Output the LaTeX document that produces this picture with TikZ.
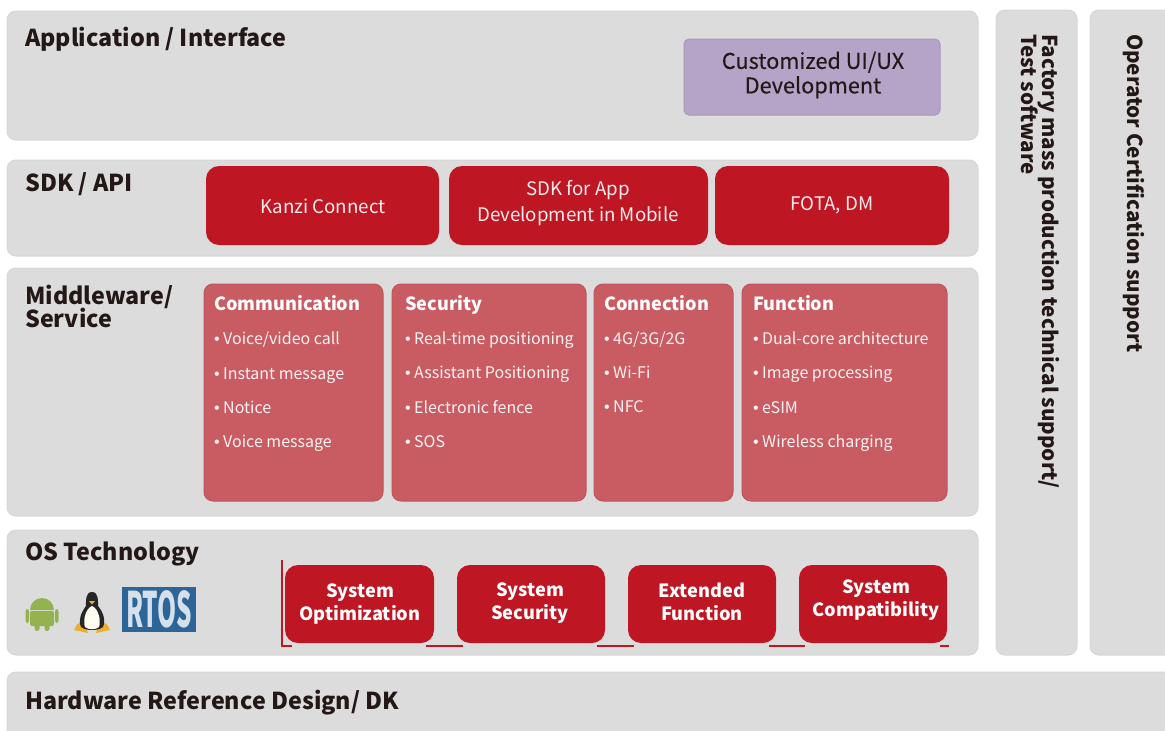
\documentclass[tikz,border=0pt]{standalone}
\usepackage{fontspec}
\setmainfont{Noto Sans CJK SC}
\newfontfamily\dotfont{Liberation Sans}
\newcommand{\dotmark}{\makebox[9pt][l]{{\dotfont •}}}
\definecolor{panelgray}{HTML}{DCDCDD}
\definecolor{paneledge}{HTML}{D6D6D7}
\definecolor{deepred}{HTML}{BE1622}
\definecolor{softred}{HTML}{C95C62}
\definecolor{softedge}{HTML}{BC565D}
\definecolor{lilac}{HTML}{B6A4C8}
\definecolor{lilacedge}{HTML}{A896BC}
\definecolor{inkdark}{HTML}{231815}
\definecolor{droid}{HTML}{93B34E}
\definecolor{rtosblue}{HTML}{2C6698}
\definecolor{tuxfoot}{HTML}{EFAE2F}
\tikzset{
 x=1pt,y=-1pt,
 panel/.style={fill=panelgray,draw=paneledge,line width=1pt,rounded corners=9pt},
 redbox/.style={fill=deepred,rounded corners=13pt},
 softbox/.style={fill=softred,draw=softedge,line width=1pt,rounded corners=9pt},
 lilacbox/.style={fill=lilac,draw=lilacedge,line width=1pt,rounded corners=5pt},
 heading/.style={anchor=base west,inner sep=0pt,text=inkdark,font=\fontsize{23.3}{25}\selectfont\bfseries},
 sidetext/.style={anchor=north west,inner sep=0pt,rotate=-90,text=inkdark,align=left,font=\fontsize{20.6}{22}\selectfont\bfseries},
 boxhead/.style={anchor=base west,inner sep=0pt,text=white,font=\fontsize{18.1}{20}\selectfont\bfseries},
 item/.style={anchor=base west,inner sep=0pt,text=white!92!softred,font=\fontsize{16}{17}\selectfont},
 sdklabel/.style={anchor=center,inner sep=0pt,align=center,text=white!92!deepred,font=\fontsize{18.7}{26.5}\selectfont},
 oslabel/.style={anchor=center,inner sep=0pt,align=center,text=white,font=\fontsize{18.2}{23}\selectfont\bfseries},
 trim/.style={draw=deepred,line width=1.5pt},
}
\begin{document}
\begin{tikzpicture}
\useasboundingbox (0,0) rectangle (1165,731);
% panels
\draw[panel] (7,11) rectangle (978,140);
\draw[panel] (7,160) rectangle (978,256);
\draw[panel] (7,268) rectangle (978,516);
\draw[panel] (7,530) rectangle (978,655);
\draw[panel] (7,672) rectangle (1185,751);
\draw[panel] (996,10) rectangle (1077,655);
\draw[panel] (1090,10) rectangle (1185,655);
% headings
\node[heading] (happ) at (25,46) {Application / Interface};
\node[heading] (hsdk) at (25,191) {SDK / API};
\node[heading] (hmid) at (25,304) {Middleware/};
\node[heading] (hmid2) at (25,327) {Service};
\node[heading] (hos) at (25,560) {OS Technology};
\node[heading] (hhw) at (25,709) {Hardware Reference Design/ DK};
% side text
\node[sidetext] (fact) at (1060,34) {Factory mass production technical support/\\[-1pt]Test software};
\node[sidetext] (oper) at (1145,34) {Operator Certification support};
% application
\draw[lilacbox] (684,39) rectangle (940,115);
\node[anchor=center,inner sep=0pt,align=center,text=inkdark,font=\fontsize{21.7}{24.5}\selectfont\addfontfeatures{FakeBold=0.25}] (ui) at (813,75) {Customized UI/UX\\Development};
% sdk
\fill[redbox] (206,166) rectangle (439,245);
\fill[redbox] (449,166) rectangle (708,245);
\fill[redbox] (715,166) rectangle (949,245);
\node[sdklabel] (kanzi) at (323,206) {Kanzi Connect};
\node[sdklabel] (sdkapp) at (578,203) {SDK for App\\Development in Mobile};
\node[sdklabel] (fota) at (832,205) {FOTA, DM};
% middleware boxes
\draw[softbox] (204,284) rectangle (383,501);
\draw[softbox] (392,284) rectangle (586,501);
\draw[softbox] (594,284) rectangle (733,501);
\draw[softbox] (742,284) rectangle (947,501);
\node[boxhead] (c0) at (214,310) {Communication};
\node[item] (c1) at (214,344) {\dotmark Voice/video call};
\node[item] (c2) at (214,379) {\dotmark Instant message};
\node[item] (c3) at (214,413) {\dotmark Notice};
\node[item] (c4) at (214,447) {\dotmark Voice message};
\node[boxhead] (s0) at (405,310) {Security};
\node[item] (s1) at (405,344) {\dotmark Real-time positioning};
\node[item] (s2) at (405,378) {\dotmark Assistant Positioning};
\node[item] (s3) at (405,413) {\dotmark Electronic fence};
\node[item] (s4) at (405,447) {\dotmark SOS};
\node[boxhead] (n0) at (604,310) {Connection};
\node[item] (n1) at (604,344) {\dotmark 4G/3G/2G};
\node[item] (n2) at (604,378) {\dotmark Wi-Fi};
\node[item] (n3) at (604,412) {\dotmark NFC};
\node[boxhead] (f0) at (753,310) {Function};
\node[item] (f1) at (753,344) {\dotmark Dual-core architecture};
\node[item] (f2) at (753,378) {\dotmark Image processing};
\node[item] (f3) at (753,413) {\dotmark eSIM};
\node[item] (f4) at (753,447) {\dotmark Wireless charging};
% OS trim
\draw[trim] (282,560) -- (282,646) -- (292,646);
\draw[trim] (426,646) -- (463,646);
\draw[trim] (597,646) -- (634,646);
\draw[trim] (769,646) -- (805,646);
\draw[trim] (940,646) -- (949,646);
% OS boxes
\fill[redbox] (285,565) rectangle (434,643);
\fill[redbox] (457,565) rectangle (605,643);
\fill[redbox] (628,565) rectangle (776,643);
\fill[redbox] (799,565) rectangle (947,643);
\node[oslabel] (o1) at (360,603.5) {System\\Optimization};
\node[oslabel] (o2) at (530,603.5) {System\\Security};
\node[oslabel] (o3) at (702,602) {Extended\\Function};
\node[oslabel] (o4) at (876,600.5) {System\\Compatibility};
% android
\fill[droid] (30,610) arc[start angle=180,end angle=360,radius=12] -- cycle;
\fill[droid,rounded corners=2pt] (30,611) rectangle (54,626);
\fill[droid,rounded corners=2.5pt] (25.5,609) rectangle (29,623);
\fill[droid,rounded corners=2.5pt] (55,609) rectangle (58.5,623);
\fill[droid,rounded corners=2.5pt] (34.5,622) rectangle (39.5,631);
\fill[droid,rounded corners=2.5pt] (44.5,622) rectangle (49.5,631);
% penguin
\fill[tuxfoot] (74,630) .. controls (78,619) and (85,621) .. (88,633) -- cycle;
\fill[tuxfoot] (110,630) .. controls (106,619) and (99,621) .. (96,633) -- cycle;
\fill[black!85] (92,592) .. controls (85,592) and (86,602) .. (86,606) .. controls (81,613) and (78,620) .. (81,627) .. controls (86,631) and (98,631) .. (103,627) .. controls (106,620) and (103,612) .. (98,606) .. controls (98,602) and (99,592) .. (92,592) -- cycle;
\fill[white!94!yellow] (92,606) .. controls (85,609) and (83,621) .. (85,627) .. controls (89,630) and (95,630) .. (99,627) .. controls (101,621) and (99,609) .. (92,606) -- cycle;
\fill[tuxfoot] (89,601) -- (95,601) -- (92,604.5) -- cycle;
% RTOS badge
\fill[rtosblue] (122,587) rectangle (196,632);
\node[anchor=center,inner sep=0pt,text=white!80!rtosblue,font=\bfseries] (rtos) at (159,609.5) {\resizebox{66pt}{37pt}{RTOS}};
\end{tikzpicture}
\end{document}
